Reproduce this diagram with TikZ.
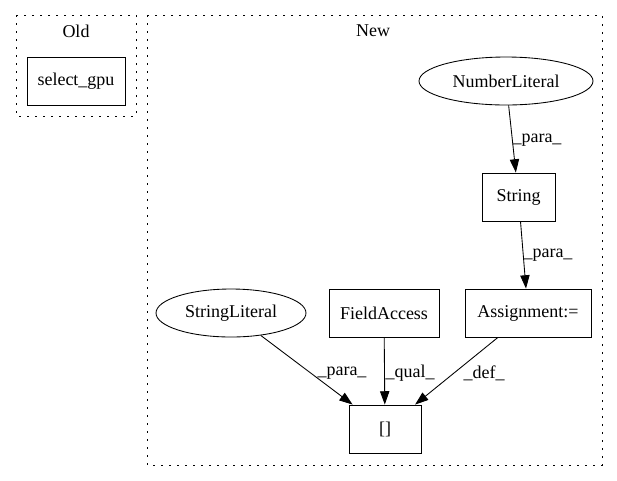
\documentclass[tikz,border=0pt]{standalone}
\usepackage{fontspec}
\setmainfont{Liberation Serif}
\usetikzlibrary{arrows.meta,shapes.geometric}
\begin{document}
\begin{tikzpicture}[x=0.75pt,y=-0.75pt,
  every node/.style={font=\fontsize{13.5}{16}\selectfont},
  boxnode/.style={draw,line width=0.65pt,rectangle,inner sep=0pt,minimum height=48*0.75pt},
  ellnode/.style={draw,line width=0.65pt,ellipse,inner sep=0pt,minimum height=48*0.75pt},
  cluster/.style={draw,line width=0.75pt,dash pattern=on 1.2pt off 4.8pt},
  edge/.style={draw,line width=0.65pt,-{Triangle[length=10pt,width=7pt]}},
  lbl/.style={inner sep=0pt}]
\useasboundingbox (0,0) rectangle (617,480);
% clusters
\draw[cluster] (16,15) rectangle (136,116);
\draw[cluster] (147,15) rectangle (602,465);
\node[lbl] (oldl) at (76,31.5) {Old};
\node[lbl] (newl) at (373,31) {New};
% nodes
\node[boxnode,minimum width=98*0.75pt] (sel) at (76,81.5) {select\_gpu};
\node[ellnode,minimum width=174*0.75pt] (nl) at (506,81) {NumberLiteral};
\node[boxnode,minimum width=73*0.75pt] (str) at (518.5,197) {String};
\node[boxnode,minimum width=126*0.75pt] (asg) at (528,313) {Assignment:=};
\node[boxnode,minimum width=110*0.75pt] (fa) at (384,313) {FieldAccess};
\node[ellnode,minimum width=150*0.75pt] (sl) at (231,313) {StringLiteral};
\node[boxnode,minimum width=72*0.75pt] (br) at (385,429) {[]};
% edges
\draw[edge] (nl) -- (str);
\draw[edge] (str) -- (asg);
\draw[edge] (sl) -- (br);
\draw[edge] (fa) -- (br);
\draw[edge] (asg) -- (br);
% edge labels
\node[lbl] (e1) at (537,140) {\_para\_};
\node[lbl] (e2) at (548,255) {\_para\_};
\node[lbl] (e3) at (342,373) {\_para\_};
\node[lbl] (e4) at (410,373) {\_qual\_};
\node[lbl] (e5) at (484,373) {\_def\_};
\end{tikzpicture}
\end{document}
